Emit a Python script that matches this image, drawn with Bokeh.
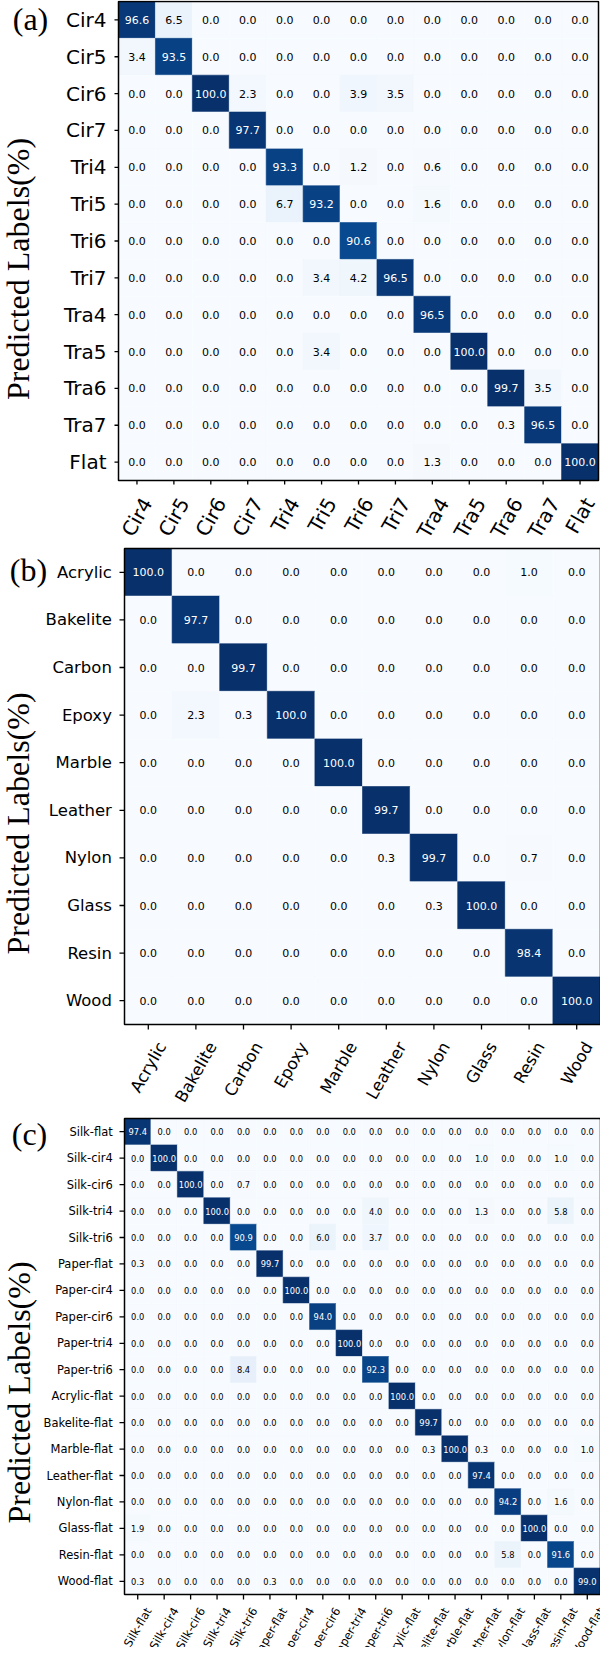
import math
from bokeh.plotting import figure
from bokeh.models import ColumnDataSource, LinearColorMapper, Range1d
from bokeh.transform import transform
from bokeh.palettes import Blues256
from bokeh.layouts import column
from bokeh.embed import file_html
from bokeh.resources import INLINE
from bokeh.core.properties import value

# ---------------- data ----------------
labels_a = ["Cir4", "Cir5", "Cir6", "Cir7", "Tri4", "Tri5", "Tri6", "Tri7",
            "Tra4", "Tra5", "Tra6", "Tra7", "Flat"]
cm_a = [
    [96.6, 6.5, 0.0, 0.0, 0.0, 0.0, 0.0, 0.0, 0.0, 0.0, 0.0, 0.0, 0.0],
    [3.4, 93.5, 0.0, 0.0, 0.0, 0.0, 0.0, 0.0, 0.0, 0.0, 0.0, 0.0, 0.0],
    [0.0, 0.0, 100.0, 2.3, 0.0, 0.0, 3.9, 3.5, 0.0, 0.0, 0.0, 0.0, 0.0],
    [0.0, 0.0, 0.0, 97.7, 0.0, 0.0, 0.0, 0.0, 0.0, 0.0, 0.0, 0.0, 0.0],
    [0.0, 0.0, 0.0, 0.0, 93.3, 0.0, 1.2, 0.0, 0.6, 0.0, 0.0, 0.0, 0.0],
    [0.0, 0.0, 0.0, 0.0, 6.7, 93.2, 0.0, 0.0, 1.6, 0.0, 0.0, 0.0, 0.0],
    [0.0, 0.0, 0.0, 0.0, 0.0, 0.0, 90.6, 0.0, 0.0, 0.0, 0.0, 0.0, 0.0],
    [0.0, 0.0, 0.0, 0.0, 0.0, 3.4, 4.2, 96.5, 0.0, 0.0, 0.0, 0.0, 0.0],
    [0.0, 0.0, 0.0, 0.0, 0.0, 0.0, 0.0, 0.0, 96.5, 0.0, 0.0, 0.0, 0.0],
    [0.0, 0.0, 0.0, 0.0, 0.0, 3.4, 0.0, 0.0, 0.0, 100.0, 0.0, 0.0, 0.0],
    [0.0, 0.0, 0.0, 0.0, 0.0, 0.0, 0.0, 0.0, 0.0, 0.0, 99.7, 3.5, 0.0],
    [0.0, 0.0, 0.0, 0.0, 0.0, 0.0, 0.0, 0.0, 0.0, 0.0, 0.3, 96.5, 0.0],
    [0.0, 0.0, 0.0, 0.0, 0.0, 0.0, 0.0, 0.0, 1.3, 0.0, 0.0, 0.0, 100.0],
]

labels_b = ["Acrylic", "Bakelite", "Carbon", "Epoxy", "Marble", "Leather",
            "Nylon", "Glass", "Resin", "Wood"]
cm_b = [
    [100.0, 0.0, 0.0, 0.0, 0.0, 0.0, 0.0, 0.0, 1.0, 0.0],
    [0.0, 97.7, 0.0, 0.0, 0.0, 0.0, 0.0, 0.0, 0.0, 0.0],
    [0.0, 0.0, 99.7, 0.0, 0.0, 0.0, 0.0, 0.0, 0.0, 0.0],
    [0.0, 2.3, 0.3, 100.0, 0.0, 0.0, 0.0, 0.0, 0.0, 0.0],
    [0.0, 0.0, 0.0, 0.0, 100.0, 0.0, 0.0, 0.0, 0.0, 0.0],
    [0.0, 0.0, 0.0, 0.0, 0.0, 99.7, 0.0, 0.0, 0.0, 0.0],
    [0.0, 0.0, 0.0, 0.0, 0.0, 0.3, 99.7, 0.0, 0.7, 0.0],
    [0.0, 0.0, 0.0, 0.0, 0.0, 0.0, 0.3, 100.0, 0.0, 0.0],
    [0.0, 0.0, 0.0, 0.0, 0.0, 0.0, 0.0, 0.0, 98.4, 0.0],
    [0.0, 0.0, 0.0, 0.0, 0.0, 0.0, 0.0, 0.0, 0.0, 100.0],
]

labels_c = ["Silk-flat", "Silk-cir4", "Silk-cir6", "Silk-tri4", "Silk-tri6",
            "Paper-flat", "Paper-cir4", "Paper-cir6", "Paper-tri4", "Paper-tri6",
            "Acrylic-flat", "Bakelite-flat", "Marble-flat", "Leather-flat",
            "Nylon-flat", "Glass-flat", "Resin-flat", "Wood-flat"]
cm_c = [
    [97.4, 0.0, 0.0, 0.0, 0.0, 0.0, 0.0, 0.0, 0.0, 0.0, 0.0, 0.0, 0.0, 0.0, 0.0, 0.0, 0.0, 0.0],
    [0.0, 100.0, 0.0, 0.0, 0.0, 0.0, 0.0, 0.0, 0.0, 0.0, 0.0, 0.0, 0.0, 1.0, 0.0, 0.0, 1.0, 0.0],
    [0.0, 0.0, 100.0, 0.0, 0.7, 0.0, 0.0, 0.0, 0.0, 0.0, 0.0, 0.0, 0.0, 0.0, 0.0, 0.0, 0.0, 0.0],
    [0.0, 0.0, 0.0, 100.0, 0.0, 0.0, 0.0, 0.0, 0.0, 4.0, 0.0, 0.0, 0.0, 1.3, 0.0, 0.0, 5.8, 0.0],
    [0.0, 0.0, 0.0, 0.0, 90.9, 0.0, 0.0, 6.0, 0.0, 3.7, 0.0, 0.0, 0.0, 0.0, 0.0, 0.0, 0.0, 0.0],
    [0.3, 0.0, 0.0, 0.0, 0.0, 99.7, 0.0, 0.0, 0.0, 0.0, 0.0, 0.0, 0.0, 0.0, 0.0, 0.0, 0.0, 0.0],
    [0.0, 0.0, 0.0, 0.0, 0.0, 0.0, 100.0, 0.0, 0.0, 0.0, 0.0, 0.0, 0.0, 0.0, 0.0, 0.0, 0.0, 0.0],
    [0.0, 0.0, 0.0, 0.0, 0.0, 0.0, 0.0, 94.0, 0.0, 0.0, 0.0, 0.0, 0.0, 0.0, 0.0, 0.0, 0.0, 0.0],
    [0.0, 0.0, 0.0, 0.0, 0.0, 0.0, 0.0, 0.0, 100.0, 0.0, 0.0, 0.0, 0.0, 0.0, 0.0, 0.0, 0.0, 0.0],
    [0.0, 0.0, 0.0, 0.0, 8.4, 0.0, 0.0, 0.0, 0.0, 92.3, 0.0, 0.0, 0.0, 0.0, 0.0, 0.0, 0.0, 0.0],
    [0.0, 0.0, 0.0, 0.0, 0.0, 0.0, 0.0, 0.0, 0.0, 0.0, 100.0, 0.0, 0.0, 0.0, 0.0, 0.0, 0.0, 0.0],
    [0.0, 0.0, 0.0, 0.0, 0.0, 0.0, 0.0, 0.0, 0.0, 0.0, 0.0, 99.7, 0.0, 0.0, 0.0, 0.0, 0.0, 0.0],
    [0.0, 0.0, 0.0, 0.0, 0.0, 0.0, 0.0, 0.0, 0.0, 0.0, 0.0, 0.3, 100.0, 0.3, 0.0, 0.0, 0.0, 1.0],
    [0.0, 0.0, 0.0, 0.0, 0.0, 0.0, 0.0, 0.0, 0.0, 0.0, 0.0, 0.0, 0.0, 97.4, 0.0, 0.0, 0.0, 0.0],
    [0.0, 0.0, 0.0, 0.0, 0.0, 0.0, 0.0, 0.0, 0.0, 0.0, 0.0, 0.0, 0.0, 0.0, 94.2, 0.0, 1.6, 0.0],
    [1.9, 0.0, 0.0, 0.0, 0.0, 0.0, 0.0, 0.0, 0.0, 0.0, 0.0, 0.0, 0.0, 0.0, 0.0, 100.0, 0.0, 0.0],
    [0.0, 0.0, 0.0, 0.0, 0.0, 0.0, 0.0, 0.0, 0.0, 0.0, 0.0, 0.0, 0.0, 0.0, 5.8, 0.0, 91.6, 0.0],
    [0.3, 0.0, 0.0, 0.0, 0.0, 0.3, 0.0, 0.0, 0.0, 0.0, 0.0, 0.0, 0.0, 0.0, 0.0, 0.0, 0.0, 99.0],
]

y_title = "Predicted Labels(%)"

# approximate DejaVu Sans advance widths (em) used to centre the rotated labels
DEJAVU = {'C': .698, 'i': .278, 'r': .411, 'T': .611, 'a': .613, 'F': .575, 'l': .278,
          't': .392, 'A': .684, 'c': .550, 'y': .592, 'B': .686, 'k': .579, 'e': .615,
          'p': .635, 'o': .612, 'x': .592, 'M': .863, 'b': .635, 'L': .557, 'h': .634,
          'N': .748, 'n': .634, 'G': .775, 's': .521, 'R': .695, 'W': .989, 'd': .635,
          'f': .352, '-': .361, 'S': .635, 'P': .603, 'E': .632}


def text_width(s, fs):
    return sum(DEJAVU.get(ch, 0.636) for ch in s) * fs


BLUES = list(reversed(Blues256))
ANG = math.pi / 3


def panel(labels, cm, letter, s):
    n = len(labels)
    cw = s["fw"] / n          # cell width (px)
    ch = s["fh"] / n          # cell height (px)
    x0 = -0.5 - s["left"] / cw
    y0 = -0.5 - s["top"] / ch
    p = figure(width=s["W"], height=s["H"],
               x_range=Range1d(x0, x0 + s["W"] / cw),
               y_range=Range1d(y0 + s["H"] / ch, y0),
               min_border=0, x_axis_location=None, y_axis_location=None,
               title_location=None, output_backend="svg",
               toolbar_location=None, tools="")
    p.background_fill_color = "white"
    p.border_fill_color = "white"
    p.outline_line_color = None
    p.grid.visible = False

    xs, ys, vs, txt, tcol = [], [], [], [], []
    for i, row in enumerate(cm):
        for j, v in enumerate(row):
            xs.append(j)
            ys.append(i)
            vs.append(v)
            txt.append(f"{v:.1f}")
            tcol.append("white" if v > 50 else "black")
    src = ColumnDataSource(dict(x=xs, y=ys, v=vs, t=txt, c=tcol))
    mapper = LinearColorMapper(palette=BLUES, low=0, high=100)
    p.rect("x", "y", 1, 1, source=src, fill_color=transform("v", mapper),
           line_color=transform("v", mapper), line_width=0.6)
    p.text("x", "y", text="t", source=src, text_color="c", text_align="center",
           text_baseline="middle", text_font=value("DejaVu Sans"),
           text_font_size=s["cell_fs"])

    # frame (spines)
    p.quad(left=-0.5, right=n - 0.5, top=-0.5, bottom=n - 0.5,
           fill_color=None, line_color="black", line_width=1.5)

    idx = list(range(n))
    tick_src = ColumnDataSource(dict(
        k=idx, lo=[n - 0.5] * n, lo2=[n - 0.5 + s["tick"] / ch] * n,
        le=[-0.5] * n, le2=[-0.5 - s["tick"] / cw] * n, lab=labels,
        xo=[text_width(t, s["xfs"]) * math.cos(ANG) / 2 for t in labels]))
    # tick marks
    p.segment(x0="k", y0="lo", x1="k", y1="lo2", source=tick_src,
              line_color="black", line_width=1.3)
    p.segment(x0="le", y0="k", x1="le2", y1="k", source=tick_src,
              line_color="black", line_width=1.3)
    # y tick labels
    p.text(x="le", y="k", text="lab", source=tick_src, x_offset=-s["ylab_gap"],
           text_align="right", text_baseline="middle", text_color="black",
           text_font=value("DejaVu Sans"), text_font_size=f'{s["yfs"]}px')
    # x tick labels (rotated, bbox centred under tick)
    p.text(x="k", y="lo", text="lab", source=tick_src, angle=ANG,
           x_offset="xo", y_offset=s["xl_yoff"], text_align="right",
           text_baseline="middle", text_color="black",
           text_font=value("DejaVu Sans"), text_font_size=f'{s["xfs"]}px')

    # panel letter and y title
    p.text(x=[-0.5], y=[0], text=[letter], x_offset=s["let_x"], y_offset=s["let_y"],
           text_align="center", text_baseline="middle", text_color="black",
           text_font=value("Liberation Serif"), text_font_size="32px")
    p.text(x=[-0.5], y=[(n - 1) / 2], text=[y_title], x_offset=s["yt_x"],
           y_offset=s["yt_y"], angle=math.pi / 2, text_align="center",
           text_baseline="middle", text_color="black",
           text_font=value("Liberation Serif"), text_font_size="32px")
    return p


pa = panel(labels_a, cm_a, "(a)", dict(W=600, H=546, fw=480, fh=479, left=118, top=1,
                                       cell_fs="11px", yfs=20, xfs=20, tick=4, ylab_gap=12,
                                       xl_yoff=19, let_x=-88, let_y=-1, yt_x=-101, yt_y=28))
pb = panel(labels_b, cm_b, "(b)", dict(W=600, H=562, fw=476, fh=476, left=124, top=2,
                                       cell_fs="11px", yfs=16.5, xfs=16.5, tick=5, ylab_gap=12.6,
                                       xl_yoff=19, let_x=-96, let_y=-2, yt_x=-107, yt_y=37))
pc = panel(labels_c, cm_c, "(c)", dict(W=600, H=539, fw=476, fh=476, left=124, top=10,
                                       cell_fs="8.3px", yfs=11.5, xfs=11.5, tick=5, ylab_gap=11.8,
                                       xl_yoff=14, let_x=-95, let_y=2, yt_x=-106, yt_y=36))

layout = column(pa, pb, pc, spacing=0)
open("out.html", "w").write(file_html(layout, INLINE))
